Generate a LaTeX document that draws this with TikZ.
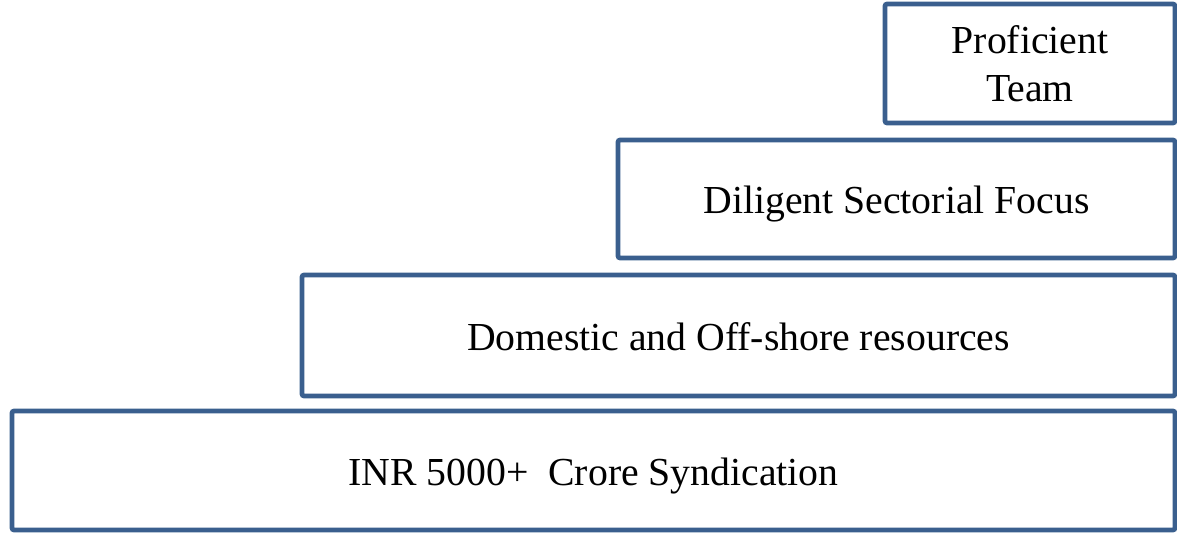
\documentclass[tikz,border=0pt]{standalone}
\usepackage{fontspec}
\setmainfont{Liberation Serif}
\usepackage{tikz}
\usetikzlibrary{positioning,calc}
\definecolor{stepblue}{HTML}{3A5F8E}
\tikzset{
  stepbox/.style={draw=stepblue,line width=1.35pt,rounded corners=0.6pt,fill=white,
    align=center,inner sep=0pt,font=\fontsize{11.3}{13.7}\selectfont},
  oneline/.style={text height=0.38cm,text depth=0.08cm}
}
\begin{document}
\begin{tikzpicture}
  \useasboundingbox (0,0) rectangle (11.77,5.34);

  % Steps
  \node[stepbox,oneline,minimum width=11.63cm,minimum height=1.19cm] (base) at (5.935,0.635) {INR 5000+\ \ Crore Syndication};
  \node[stepbox,oneline,minimum width=8.73cm,minimum height=1.21cm] (resources) at (7.385,1.985) {Domestic and Off-shore resources};
  \node[stepbox,oneline,minimum width=5.57cm,minimum height=1.18cm] (focus) at (8.965,3.35) {Diligent Sectorial Focus};
  \node[stepbox,minimum width=2.90cm,minimum height=1.19cm] (team) at (10.30,4.705) {Proficient\\Team};
\end{tikzpicture}
\end{document}
